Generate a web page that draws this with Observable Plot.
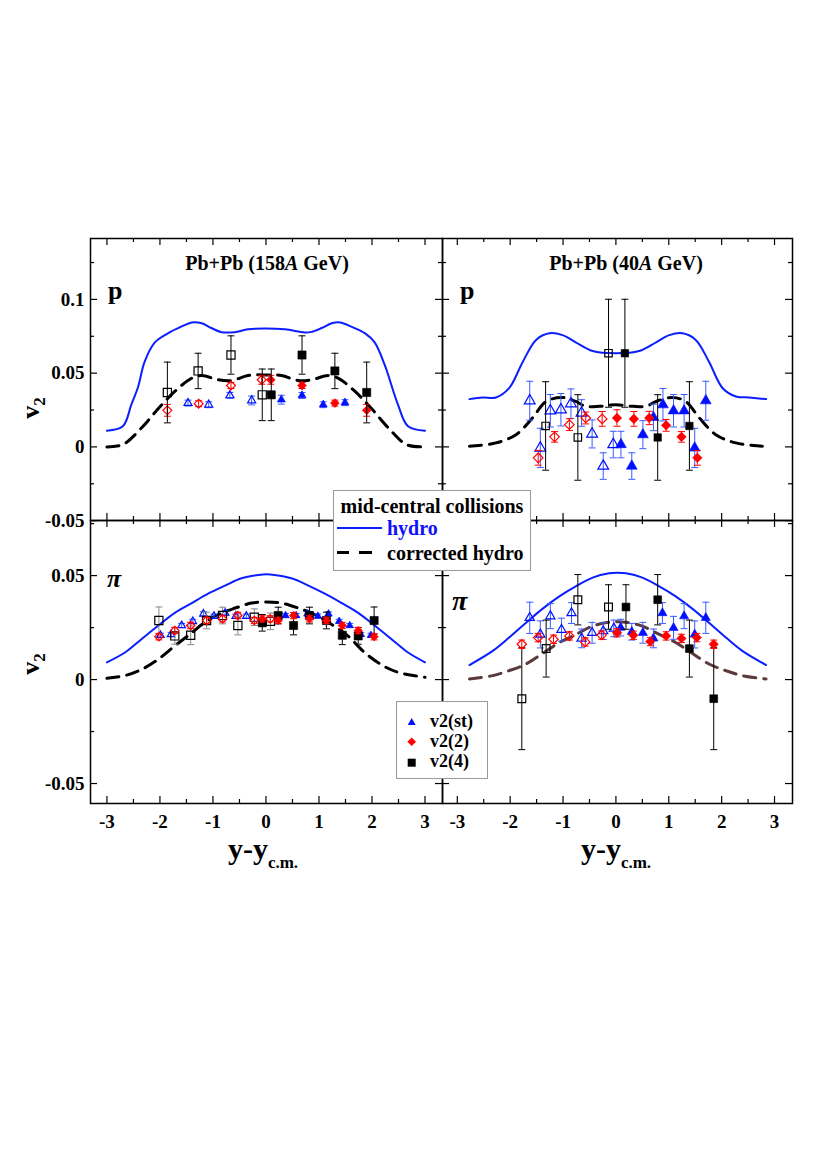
<!DOCTYPE html>
<html><head><meta charset="utf-8">
<script src="https://cdn.jsdelivr.net/npm/d3@7"></script>
<script src="https://cdn.jsdelivr.net/npm/@observablehq/plot@0.6"></script>
<style>
body{margin:0;background:#fff;}
#page{position:relative;width:817px;height:1176px;overflow:hidden;font-family:"Liberation Serif","Times New Roman",serif;font-weight:bold;color:#000;}
.t{position:absolute;white-space:nowrap;line-height:1;}
.box{position:absolute;background:#fff;border:1px solid #9a9a9a;box-sizing:border-box;}
</style></head>
<body><div id="page"></div>
<script>
// ---------------- data ----------------
const xMajorTicks = [-3, -2, -1, 0, 1, 2, 3];
const xMinorTicks = [-2.5, -1.5, -0.5, 0.5, 1.5, 2.5];
const yMajorTop = [-0.05, 0, 0.05, 0.1];
const yMinorTop = [-0.025, 0.025, 0.075, 0.125];
const yMajorBottom = [-0.05, 0, 0.05];
const yMinorBottom = [-0.025, 0.025, 0.075];
const yLabelsTop = [-0.05, 0, 0.05, 0.1];
const yLabelsBottom = [-0.05, 0, 0.05];

// Protons, 158A GeV
const p158_hydro = [[-3.0,0.011],[-2.70,0.014],[-2.54,0.0286],[-2.41,0.041],[-2.29,0.0576],[-2.10,0.0707],[-1.85,0.077],[-1.60,0.0815],[-1.40,0.0844],[-1.21,0.0838],[-1.03,0.0806],[-0.84,0.0778],[-0.59,0.0778],[-0.34,0.0797],[-0.02,0.0803],[0.36,0.0797],[0.73,0.0776],[0.86,0.078],[1.05,0.0806],[1.24,0.0838],[1.40,0.0844],[1.61,0.0815],[1.87,0.077],[2.05,0.0709],[2.24,0.0556],[2.49,0.0286],[2.68,0.014],[3.0,0.011]];
const p158_corr = [[-3.0,0.0],[-2.70,0.0016],[-2.35,0.0128],[-2.03,0.026],[-1.72,0.0376],[-1.40,0.0466],[-1.21,0.0484],[-0.90,0.0455],[-0.65,0.045],[-0.34,0.0484],[-0.02,0.0488],[0.29,0.0484],[0.61,0.045],[0.86,0.0455],[1.17,0.0484],[1.36,0.0466],[1.68,0.0376],[1.99,0.026],[2.31,0.0128],[2.65,0.0016],[3.0,0.0]];
const p158_v24_open = [[-1.86,0.0369,0.0206],[-1.28,0.0515,0.012],[-0.66,0.0623,0.013],[-0.07,0.0353,0.0175]];
const p158_v24_fill = [[0.10,0.0353,0.0175],[0.68,0.0623,0.013],[1.30,0.0515,0.012],[1.90,0.0369,0.0206]];
const p158_v22_open = [[-1.86,0.0248,0.004],[-1.27,0.0293,0.002],[-0.66,0.0416,0.002],[-0.08,0.0455,0.003]];
const p158_v22_fill = [[0.09,0.0455,0.003],[0.68,0.0416,0.002],[1.30,0.0297,0.002],[1.90,0.0248,0.004]];
const p158_vst_open = [[-1.47,0.0297,0.002],[-1.08,0.0286,0.002],[-0.68,0.0349,0.002],[-0.27,0.0315,0.003]];
const p158_vst_fill = [[0.29,0.032,0.003],[0.68,0.0349,0.002],[1.08,0.0286,0.002],[1.49,0.030,0.002]];

// Protons, 40A GeV
const p40_hydro = [[-2.77,0.0324],[-2.52,0.0335],[-2.27,0.0335],[-2.02,0.0398],[-1.76,0.0578],[-1.51,0.0725],[-1.26,0.077],[-1.01,0.0758],[-0.76,0.0709],[-0.44,0.065],[0.0,0.0635],[0.44,0.065],[0.76,0.0709],[1.01,0.0758],[1.26,0.077],[1.51,0.0725],[1.76,0.0578],[2.02,0.0398],[2.27,0.0342],[2.52,0.0335],[2.84,0.0324]];
const p40_corr = [[-2.77,0.0005],[-2.27,0.0027],[-1.89,0.0083],[-1.58,0.0196],[-1.32,0.0308],[-1.01,0.0335],[-0.76,0.0308],[-0.57,0.0275],[-0.31,0.0275],[0.0,0.0286],[0.32,0.0275],[0.57,0.0275],[0.76,0.0308],[1.07,0.0335],[1.32,0.0308],[1.58,0.0196],[1.89,0.0083],[2.27,0.0027],[2.77,0.0005]];
const p40_v24_open = [[-1.33,0.0142,0.030],[-0.72,0.0064,0.029],[-0.14,0.0635,0.0366]];
const p40_v24_fill = [[0.17,0.0635,0.0366],[0.79,0.0064,0.029],[1.39,0.0142,0.030]];
const p40_v22_open = [[-1.47,-0.0074,0.005],[-1.16,0.0068,0.0036],[-0.88,0.0151,0.004],[-0.57,0.0196,0.004],[-0.26,0.019,0.005]];
const p40_v22_fill = [[0.02,0.0196,0.0056],[0.34,0.019,0.005],[0.63,0.0196,0.0045],[0.95,0.0146,0.004],[1.24,0.0068,0.0036],[1.54,-0.0074,0.005]];
const p40_vst_open = [[-1.63,0.0313,0.0132],[-1.43,-0.0007,0.0133],[-1.24,0.0245,0.011],[-1.04,0.0252,0.011],[-0.85,0.0293,0.010],[-0.65,0.023,0.009],[-0.45,0.0088,0.0095],[-0.24,-0.013,0.009],[-0.05,0.0016,0.009]];
const p40_vst_fill = [[0.095,0.0016,0.009],[0.30,-0.013,0.009],[0.51,0.0083,0.0095],[0.71,0.020,0.009],[0.89,0.0286,0.011],[1.09,0.0245,0.011],[1.29,0.0245,0.011],[1.49,-0.0007,0.0133],[1.70,0.0313,0.0132]];

// Pions, 158A GeV
const pi158_hydro = [[-3.0,0.0083],[-2.66,0.013],[-2.35,0.0194],[-2.03,0.026],[-1.72,0.0321],[-1.40,0.0368],[-1.09,0.0413],[-0.77,0.0452],[-0.46,0.0487],[-0.14,0.0503],[0.01,0.0506],[0.16,0.0503],[0.48,0.0487],[0.80,0.0452],[1.11,0.0413],[1.43,0.0368],[1.74,0.0321],[2.05,0.026],[2.37,0.0194],[2.68,0.013],[3.0,0.0083]];
const pi158_corr = [[-3.0,0.0006],[-2.66,0.0019],[-2.35,0.0048],[-2.03,0.0098],[-1.72,0.0162],[-1.40,0.0225],[-1.21,0.0265],[-0.90,0.0313],[-0.58,0.0344],[-0.27,0.0368],[0.01,0.0373],[0.29,0.0368],[0.61,0.0344],[0.92,0.0313],[1.24,0.0265],[1.55,0.0209],[1.86,0.013],[2.18,0.0071],[2.49,0.0035],[3.0,0.0011]];
const pi158_v24_open = [[-2.02,0.0284,0.0065],[-1.72,0.021,0.004],[-1.42,0.0213,0.0045],[-1.12,0.0284,0.004],[-0.82,0.0308,0.004],[-0.53,0.026,0.0045],[-0.22,0.030,0.004],[0.085,0.028,0.004]];
const pi158_v24_fill = [[-0.07,0.0273,0.004],[0.23,0.0308,0.004],[0.52,0.026,0.0045],[0.82,0.0308,0.004],[1.14,0.0284,0.004],[1.44,0.0213,0.0045],[1.74,0.021,0.004],[2.04,0.0284,0.0065]];
const pi158_v22_open = [[-2.02,0.0206,0.0015],[-1.72,0.0236,0.0015],[-1.42,0.026,0.0015],[-1.12,0.0284,0.0015],[-0.82,0.0292,0.0015],[-0.53,0.0308,0.0015],[-0.22,0.0284,0.0015],[0.08,0.0292,0.0015]];
const pi158_v22_fill = [[-0.07,0.0292,0.0015],[0.23,0.0284,0.0015],[0.52,0.0308,0.0015],[0.82,0.0292,0.0015],[1.14,0.0284,0.0015],[1.44,0.026,0.0015],[1.74,0.0236,0.0015],[2.04,0.0206,0.0015]];
const pi158_vst_open = [[-1.99,0.0213,0.001],[-1.79,0.0217,0.001],[-1.59,0.026,0.001],[-1.38,0.028,0.001],[-1.18,0.0316,0.001],[-0.98,0.0305,0.001],[-0.77,0.032,0.001],[-0.57,0.0305,0.001],[-0.37,0.0305,0.001]];
const pi158_vst_fill = [[0.37,0.0308,0.001],[0.57,0.0308,0.001],[0.78,0.0316,0.001],[0.98,0.0305,0.001],[1.18,0.0316,0.001],[1.38,0.028,0.001],[1.58,0.026,0.001],[1.79,0.0217,0.001],[1.98,0.0213,0.001]];

// Pions, 40A GeV
const pi40_hydro = [[-2.77,0.007],[-2.33,0.0138],[-2.02,0.0202],[-1.70,0.0273],[-1.39,0.034],[-1.07,0.04],[-0.76,0.0448],[-0.44,0.049],[-0.13,0.0511],[0.03,0.0514],[0.19,0.0511],[0.50,0.049],[0.82,0.0448],[1.13,0.04],[1.45,0.034],[1.76,0.0273],[2.08,0.0202],[2.39,0.0138],[2.84,0.007]];
const pi40_corr = [[-2.77,0.0003],[-2.33,0.0019],[-2.02,0.0043],[-1.70,0.0075],[-1.39,0.0125],[-1.07,0.0178],[-0.76,0.0217],[-0.44,0.0257],[-0.13,0.0276],[0.03,0.0278],[0.19,0.0276],[0.50,0.0257],[0.82,0.0217],[1.13,0.0178],[1.45,0.0125],[1.76,0.0075],[2.08,0.0043],[2.39,0.0019],[2.84,0.0003]];
const pi40_v24_open = [[-1.78,-0.0092,0.0245],[-1.32,0.0149,0.0137],[-0.72,0.0384,0.0121],[-0.14,0.0349,0.0107]];
const pi40_v24_fill = [[0.19,0.0349,0.0107],[0.79,0.0384,0.0121],[1.39,0.0149,0.0137],[1.85,-0.0092,0.0245]];
const pi40_v22_open = [[-1.78,0.017,0.002],[-1.47,0.0202,0.002],[-1.18,0.0194,0.002],[-0.88,0.021,0.002],[-0.58,0.0181,0.002],[-0.27,0.0214,0.002]];
const pi40_v22_fill = [[0.02,0.0225,0.002],[0.33,0.0213,0.002],[0.65,0.0183,0.002],[0.95,0.021,0.002],[1.24,0.0198,0.002],[1.53,0.0202,0.002],[1.85,0.017,0.002]];
const pi40_vst_open = [[-1.63,0.0297,0.0075],[-1.43,0.0217,0.0065],[-1.24,0.0305,0.006],[-1.03,0.024,0.0055],[-0.84,0.032,0.005],[-0.65,0.0198,0.0045],[-0.45,0.0225,0.005],[-0.24,0.0233,0.004],[-0.04,0.0246,0.004]];
const pi40_vst_fill = [[0.09,0.025,0.004],[0.30,0.023,0.004],[0.51,0.0225,0.005],[0.71,0.0198,0.0045],[0.88,0.032,0.005],[1.09,0.0249,0.0055],[1.29,0.0305,0.006],[1.49,0.0217,0.0065],[1.70,0.0297,0.0075]];

const panelTitles = ["Pb+Pb (158<i>A</i> GeV)", "Pb+Pb (40<i>A</i> GeV)"];
const legendLines = ["hydro", "corrected hydro"];
const legendMarkers = ["v2(st)", "v2(2)", "v2(4)"];

// ---------------- drawing ----------------
const W = 817, H = 1176;
const FONT = '"Liberation Serif","Times New Roman",serif';
const BLUE_LINE = "#0a1eff", BLUE = "#0010ff", BLUE_ERR = "#3a5cff", RED = "#ff0000", BLACK = "#000000";
const page = document.getElementById("page");
const cap = {draw(ctx) { ctx.moveTo(-3.5, 0); ctx.lineTo(3.5, 0); }};
const fmt = d => String(d);

function series(data, symbol, color, errColor, r, open) {
  return {rows: data.map(([x, v, e]) => ({x, v, e})), symbol, color, errColor, r, open};
}

function panel(cfg) {
  const [L, T, R, B] = cfg.frame;
  const iw = R - L, ih = B - T;
  const marks = [];
  marks.push(Plot.line(cfg.hydro, {x: d => d[0], y: d => d[1], stroke: BLUE_LINE, strokeWidth: 2, curve: "catmull-rom"}));
  marks.push(Plot.line(cfg.corr, {x: d => d[0], y: d => d[1], stroke: cfg.corrColor, strokeWidth: 3, strokeDasharray: "12,8", curve: "catmull-rom"}));
  for (const s of cfg.series) {
    marks.push(Plot.ruleX(s.rows, {x: "x", y1: d => d.v - d.e, y2: d => d.v + d.e, stroke: s.errColor, strokeWidth: 1}));
    marks.push(Plot.dot(s.rows, {x: "x", y: d => d.v - d.e, symbol: cap, fill: "none", stroke: s.errColor, strokeWidth: 1, r: 2}));
    marks.push(Plot.dot(s.rows, {x: "x", y: d => d.v + d.e, symbol: cap, fill: "none", stroke: s.errColor, strokeWidth: 1, r: 2}));
    marks.push(Plot.dot(s.rows, {x: "x", y: "v", symbol: s.symbol, r: s.r, fill: s.open ? "none" : s.color, stroke: s.color, strokeWidth: s.open ? 1.2 : 0.6}));
  }
  // inward ticks on all four sides
  marks.push(Plot.tickX(xMajorTicks, {x: d => d, insetTop: ih - 7, stroke: BLACK, strokeWidth: 1.2}));
  marks.push(Plot.tickX(xMajorTicks, {x: d => d, insetBottom: ih - 7, stroke: BLACK, strokeWidth: 1.2}));
  marks.push(Plot.tickX(xMinorTicks, {x: d => d, insetTop: ih - 4, stroke: BLACK, strokeWidth: 1.2}));
  marks.push(Plot.tickX(xMinorTicks, {x: d => d, insetBottom: ih - 4, stroke: BLACK, strokeWidth: 1.2}));
  marks.push(Plot.tickY(cfg.yMajor, {y: d => d, insetRight: iw - 7, stroke: BLACK, strokeWidth: 1.2}));
  marks.push(Plot.tickY(cfg.yMajor, {y: d => d, insetLeft: iw - 7, stroke: BLACK, strokeWidth: 1.2}));
  marks.push(Plot.tickY(cfg.yMinor, {y: d => d, insetRight: iw - 4, stroke: BLACK, strokeWidth: 1.2}));
  marks.push(Plot.tickY(cfg.yMinor, {y: d => d, insetLeft: iw - 4, stroke: BLACK, strokeWidth: 1.2}));
  marks.push(Plot.frame({stroke: BLACK, strokeWidth: 1.5}));
  if (cfg.showX) marks.push(Plot.axisX(xMajorTicks, {tickSize: 0, tickPadding: 11, tickFormat: fmt, fontSize: 19, label: null}));
  if (cfg.showY) marks.push(Plot.axisY(cfg.yLabels, {tickSize: 0, tickPadding: 6, tickFormat: fmt, fontSize: 19, label: null}));
  const xOpt = {domain: cfg.xDomain};
  const yOpt = {domain: cfg.yDomain};
  if (!cfg.showX) xOpt.axis = null;
  if (!cfg.showY) yOpt.axis = null;
  const svg = Plot.plot({
    width: W, height: H,
    marginLeft: L, marginRight: W - R, marginTop: T, marginBottom: H - B,
    x: xOpt, y: yOpt,
    style: {background: "transparent", fontFamily: FONT, fontWeight: "bold", position: "absolute", left: "0px", top: "0px", color: "#000"},
    marks
  });
  page.appendChild(svg);
}

const topY = [-0.0499, 0.1413], botY = [-0.0596, 0.0765];
const leftX = [-3.31, 3.33], rightX = [-3.28, 3.34];

panel({frame: [90, 238, 442, 520], xDomain: leftX, yDomain: topY, yMajor: yMajorTop, yMinor: yMinorTop, yLabels: yLabelsTop,
  showX: false, showY: true, hydro: p158_hydro, corr: p158_corr, corrColor: BLACK,
  series: [
    series(p158_vst_open, "triangle", BLUE, BLUE_ERR, 3.0, true),
    series(p158_vst_fill, "triangle", BLUE, BLUE_ERR, 3.0, false),
    series(p158_v22_open, "diamond2", RED, RED, 4.0, true),
    series(p158_v22_fill, "diamond2", RED, RED, 4.0, false),
    series(p158_v24_open, "square", BLACK, BLACK, 4.6, true),
    series(p158_v24_fill, "square", BLACK, BLACK, 4.6, false)
  ]});

panel({frame: [442, 238, 792, 520], xDomain: rightX, yDomain: topY, yMajor: yMajorTop, yMinor: yMinorTop,
  showX: false, showY: false, hydro: p40_hydro, corr: p40_corr, corrColor: BLACK,
  series: [
    series(p40_vst_open, "triangle", BLUE, BLUE_ERR, 4.0, true),
    series(p40_vst_fill, "triangle", BLUE, BLUE_ERR, 4.0, false),
    series(p40_v22_open, "diamond2", RED, RED, 4.3, true),
    series(p40_v22_fill, "diamond2", RED, RED, 4.3, false),
    series(p40_v24_open, "square", BLACK, BLACK, 4.2, true),
    series(p40_v24_fill, "square", BLACK, BLACK, 4.2, false)
  ]});

panel({frame: [90, 520, 442, 803], xDomain: leftX, yDomain: botY, yMajor: yMajorBottom, yMinor: yMinorBottom, yLabels: yLabelsBottom,
  showX: true, showY: true, hydro: pi158_hydro, corr: pi158_corr, corrColor: BLACK,
  series: [
    series(pi158_vst_open, "triangle", BLUE, BLUE_ERR, 2.8, true),
    series(pi158_vst_fill, "triangle", BLUE, BLUE_ERR, 2.8, false),
    series(pi158_v24_open, "square", BLACK, "#8a8a8a", 4.6, true),
    series(pi158_v24_fill, "square", BLACK, BLACK, 4.6, false),
    series(pi158_v22_open, "diamond2", RED, RED, 3.8, true),
    series(pi158_v22_fill, "diamond2", RED, RED, 3.8, false)
  ]});

panel({frame: [442, 520, 792, 803], xDomain: rightX, yDomain: botY, yMajor: yMajorBottom, yMinor: yMinorBottom,
  showX: true, showY: false, hydro: pi40_hydro, corr: pi40_corr, corrColor: "#5a3a3a",
  series: [
    series(pi40_vst_open, "triangle", BLUE, BLUE_ERR, 3.4, true),
    series(pi40_vst_fill, "triangle", BLUE, BLUE_ERR, 3.4, false),
    series(pi40_v24_open, "square", BLACK, BLACK, 4.4, true),
    series(pi40_v24_fill, "square", BLACK, BLACK, 4.4, false),
    series(pi40_v22_open, "diamond2", RED, RED, 4.2, true),
    series(pi40_v22_fill, "diamond2", RED, RED, 4.2, false)
  ]});

// ---------------- text ----------------
function addText(html, x, baseline, size, opts = {}) {
  const lh = opts.lh || 1;
  const d = document.createElement("div");
  d.className = "t";
  d.innerHTML = html;
  d.style.fontSize = size + "px";
  d.style.lineHeight = String(lh);
  d.style.left = x + "px";
  d.style.top = (baseline - (lh / 2 + 0.3375) * size) + "px";
  if (opts.anchor === "middle") d.style.transform = "translateX(-50%)";
  if (opts.color) d.style.color = opts.color;
  if (opts.italic) d.style.fontStyle = "italic";
  page.appendChild(d);
  return d;
}

addText(panelTitles[0], 267, 270, 20, {anchor: "middle"});
addText(panelTitles[1], 626, 270, 20, {anchor: "middle"});
addText("p", 108, 300, 26);
addText("p", 460, 300, 26);
addText("π", 107, 588, 26, {italic: true});
addText("π", 452, 610, 28, {italic: true});

const xl = 'y-y<span style="font-size:17px;line-height:0.6;position:relative;top:9px">c.m.</span>';
addText(xl, 263, 859, 30, {anchor: "middle", lh: 0.6});
addText(xl, 616, 859, 30, {anchor: "middle", lh: 0.6});

function yLabel(cx, cy) {
  const d = document.createElement("div");
  d.className = "t";
  d.innerHTML = 'v<span style="font-size:17px;position:relative;top:6px">2</span>';
  d.style.fontSize = "26px";
  d.style.left = cx + "px";
  d.style.top = cy + "px";
  d.style.transform = "translate(-50%,-50%) rotate(-90deg)";
  page.appendChild(d);
}
yLabel(31, 408);
yLabel(31, 664);

// legend 1
const b1 = document.createElement("div");
b1.className = "box";
Object.assign(b1.style, {left: "333px", top: "490px", width: "198px", height: "81px"});
page.appendChild(b1);
addText("mid-central collisions", 432, 513, 20, {anchor: "middle"});
const hl = document.createElement("div");
Object.assign(hl.style, {position: "absolute", left: "337px", top: "527px", width: "45px", height: "0", borderTop: "2px solid " + BLUE_LINE});
page.appendChild(hl);
for (const [a, w] of [[337, 12], [359, 13]]) {
  const dl = document.createElement("div");
  Object.assign(dl.style, {position: "absolute", left: a + "px", top: "551px", width: w + "px", height: "0", borderTop: "3px solid #000"});
  page.appendChild(dl);
}
addText(legendLines[0], 387, 535, 20, {color: "#1010ff"});
addText(legendLines[1], 387, 560, 20);

// legend 2
const b2 = document.createElement("div");
b2.className = "box";
Object.assign(b2.style, {left: "396px", top: "701px", width: "92px", height: "78px"});
page.appendChild(b2);
const ns = "http://www.w3.org/2000/svg";
const lg = document.createElementNS(ns, "svg");
lg.setAttribute("width", "30"); lg.setAttribute("height", "70");
Object.assign(lg.style, {position: "absolute", left: "397px", top: "705px"});
lg.innerHTML =
  '<path d="M14.7,13 L18.7,20 L10.7,20 Z" fill="' + BLUE + '"/>' +
  '<path d="M14.7,32.5 L19,36.7 L14.7,41 L10.4,36.7 Z" fill="' + RED + '"/>' +
  '<rect x="10.7" y="53.7" width="8" height="8" fill="#000"/>';
page.appendChild(lg);
addText(legendMarkers[0], 430, 727, 18);
addText(legendMarkers[1], 430, 747, 18);
addText(legendMarkers[2], 430, 767, 18);
</script>
</body></html>
